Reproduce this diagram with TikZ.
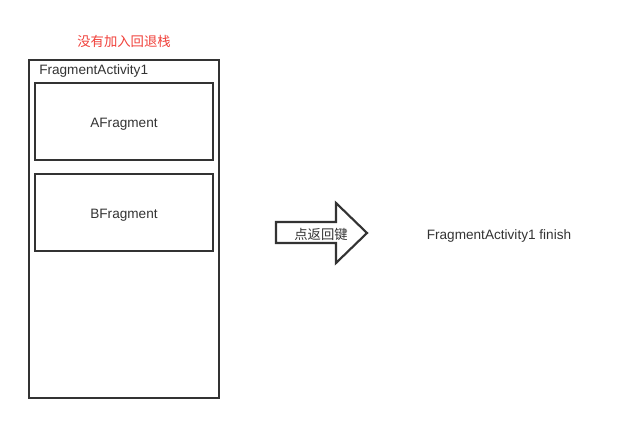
\documentclass[tikz,border=0pt]{standalone}
\usepackage{fontspec}
\setmainfont{Liberation Sans}
\newfontfamily\cjk{Noto Sans CJK SC}
\definecolor{ln}{HTML}{333333}
\definecolor{tx}{HTML}{333333}
\definecolor{rd}{HTML}{F0403A}
\begin{document}
\begin{tikzpicture}[x=0.75pt,y=-0.75pt,
  box/.style={draw=ln,line width=1.6pt},
  lbl/.style={text=tx,font=\fontsize{10.2}{12}\selectfont,inner sep=0pt}]
\useasboundingbox (0,0) rectangle (636,424);
\node[lbl,text=rd,font=\cjk\fontsize{10}{12}\selectfont] (title) at (124,41) {没有加入回退栈};
\draw[box] (29,60) rectangle (219,398);
\node[lbl,anchor=west] (act) at (39,71) {FragmentActivity1};
\draw[box] (35,83) rectangle (213,160);
\node[lbl] (a) at (124,124.5) {AFragment};
\draw[box] (35,174) rectangle (213,251);
\node[lbl] (b) at (124,215.5) {BFragment};
\draw[draw=ln,line width=1.6pt,line join=miter] (276,222) -- (336,222) -- (336,203) -- (367,233) -- (336,263) -- (336,243) -- (276,243) -- cycle;
\node[lbl,font=\cjk\fontsize{10}{12}\selectfont] (back) at (321,234) {点返回键};
\node[lbl] (fin) at (499,235.5) {FragmentActivity1 finish};
\end{tikzpicture}
\end{document}
